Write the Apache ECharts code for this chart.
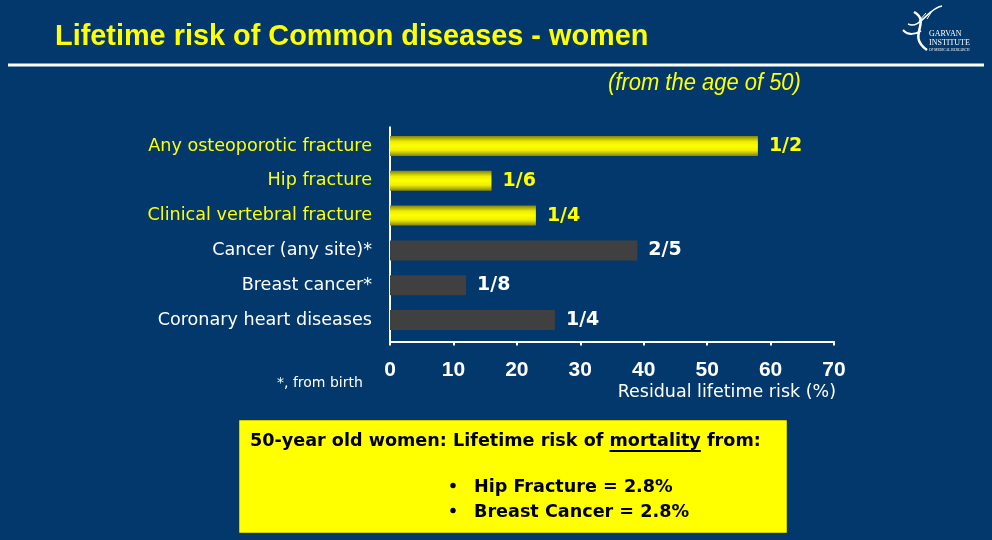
<!DOCTYPE html>
<html>
<head>
<meta charset="utf-8">
<script src="https://cdn.jsdelivr.net/npm/echarts@6/dist/echarts.min.js"></script>
<style>
html,body{margin:0;padding:0;background:#02386b;}
#c{width:992px;height:540px;}
</style>
</head>
<body>
<div id="c"></div>
<script>
// ---- data ----
const categories = ["Any osteoporotic fracture", "Hip fracture", "Clinical vertebral fracture", "Cancer (any site)*", "Breast cancer*", "Coronary heart diseases"];
const riskValues = [58, 16, 23, 39, 12, 26];
const fractionLabels = ["1/2", "1/6", "1/4", "2/5", "1/8", "1/4"];
const isFracture = [true, true, true, false, false, false];
const xTicks = [0, 10, 20, 30, 40, 50, 60, 70];
const titleText = "Lifetime risk of Common diseases - women";
const subtitleText = "(from the age of 50)";
const axisTitle = "Residual lifetime risk (%)";
const footnote = "*, from birth";
const boxHeading = ["50-year old women: Lifetime risk of ", "mortality", " from:"];
const boxBullets = ["Hip Fracture = 2.8%", "Breast Cancer = 2.8%"];

// ---- styles ----
const BG = "#02386b";
const YEL = "#ffff00";
const GRAY = "#404040";
const WHITE = "#ffffff";
const ARIAL = "'Liberation Sans', Arial, sans-serif";
const TAHOMA = "'DejaVu Sans', Verdana, sans-serif";

const gridLeft = 390, gridRight = 834, gridTop = 128.6, gridBottom = 337.4, axisY = 341.5;

// measure text for the underline under "mortality"
const mctx = document.createElement("canvas").getContext("2d");
const boxFont = "bold 17.6px " + TAHOMA;
mctx.font = boxFont;
const boxTextX = 250;
const ulX = boxTextX + mctx.measureText(boxHeading[0]).width;
const ulW = mctx.measureText(boxHeading[1]).width;

const yellowGrad = new echarts.graphic.LinearGradient(0, 0, 0, 1, [
  {offset: 0, color: "#85850a"},
  {offset: 0.28, color: "#eeee00"},
  {offset: 0.5, color: "#ffff00"},
  {offset: 0.72, color: "#eeee00"},
  {offset: 1, color: "#85850a"}
]);

const barData = riskValues.map((v, i) => ({
  value: v,
  itemStyle: {color: isFracture[i] ? yellowGrad : GRAY},
  label: {color: isFracture[i] ? YEL : WHITE}
}));

const chart = echarts.init(document.getElementById("c"), null, {renderer: "canvas"});

const option = {
  backgroundColor: BG,
  animation: false,
  grid: {left: gridLeft, right: 992 - gridRight, top: gridTop, bottom: 540 - gridBottom, containLabel: false},
  xAxis: {
    type: "value",
    min: xTicks[0], max: xTicks[xTicks.length - 1], interval: 10,
    offset: axisY - gridBottom,
    axisLine: {show: true, lineStyle: {color: WHITE, width: 2}},
    axisTick: {show: true, length: 4, lineStyle: {color: WHITE, width: 2}},
    splitLine: {show: false},
    axisLabel: {color: WHITE, fontFamily: ARIAL, fontWeight: "bold", fontSize: 21, margin: 18}
  },
  yAxis: {
    type: "category",
    inverse: true,
    data: categories,
    axisLine: {show: false},
    axisTick: {show: false},
    axisLabel: {
      fontFamily: TAHOMA, fontSize: 17.6, margin: 18,
      color: (val, idx) => isFracture[idx] ? YEL : WHITE
    }
  },
  series: [{
    type: "bar",
    data: barData,
    barWidth: 20,
    label: {
      show: true, position: "right", distance: 11,
      fontFamily: TAHOMA, fontWeight: "bold", fontSize: 19,
      formatter: p => fractionLabels[p.dataIndex]
    }
  }],
  graphic: [
    {type: "text", x: 55, y: 37, scaleX: 0.962, style: {text: titleText, fill: YEL, font: "bold 30px " + ARIAL, verticalAlign: "middle"}},
    {type: "rect", shape: {x: 8, y: 63.5, width: 976, height: 3}, style: {fill: WHITE}},
    {type: "text", x: 608, y: 84, scaleX: 0.955, style: {text: subtitleText, fill: YEL, font: "italic 23px " + ARIAL, verticalAlign: "middle"}},
    // y axis line
    {type: "line", shape: {x1: gridLeft, y1: gridTop - 2, x2: gridLeft, y2: axisY}, style: {stroke: WHITE, lineWidth: 2}},
    // logo
    {type: "text", left: 929, top: 30, style: {text: "GARVAN", fill: WHITE, font: "8px 'Liberation Serif', serif"}},
    {type: "text", left: 929, top: 39, style: {text: "INSTITUTE", fill: WHITE, font: "8px 'Liberation Serif', serif"}},
    {type: "text", left: 929, top: 48, style: {text: "OF MEDICAL RESEARCH", fill: WHITE, font: "3.5px 'Liberation Serif', serif"}},
    {type: "bezierCurve", shape: {x1: 908, y1: 24, x2: 942, y2: 6, cpx1: 920, cpy1: 30, cpx2: 928, cpy2: 8}, style: {stroke: WHITE, lineWidth: 1.5, fill: null}},
    {type: "bezierCurve", shape: {x1: 914, y1: 12, x2: 927, y2: 50, cpx1: 932, cpy1: 22, cpx2: 906, cpy2: 36}, style: {stroke: WHITE, lineWidth: 2.5, fill: null}},
    {type: "bezierCurve", shape: {x1: 903, y1: 30, x2: 921, y2: 31, cpx1: 908, cpy1: 36, cpx2: 916, cpy2: 34}, style: {stroke: WHITE, lineWidth: 2, fill: null}},
    {type: "line", shape: {x1: 919, y1: 21, x2: 926, y2: 13}, style: {stroke: WHITE, lineWidth: 1}},
    {type: "line", shape: {x1: 927, y1: 19, x2: 932, y2: 11}, style: {stroke: WHITE, lineWidth: 1}},
    // axis title & footnote
    {type: "text", right: 992 - 836, top: 383, style: {text: axisTitle, fill: WHITE, font: "17.5px " + TAHOMA}},
    {type: "text", left: 277, top: 376, style: {text: footnote, fill: WHITE, font: "14px " + TAHOMA}},
    // yellow box
    {type: "rect", shape: {x: 239, y: 420, width: 548, height: 113}, style: {fill: YEL, stroke: "#333300", lineWidth: 0.5}},
    {type: "text", x: boxTextX, y: 441, style: {text: boxHeading.join(""), fill: "#000", font: boxFont, verticalAlign: "middle"}},
    {type: "rect", shape: {x: ulX, y: 450, width: ulW, height: 2}, style: {fill: "#000"}},
    {type: "circle", shape: {cx: 453, cy: 485.5, r: 2.7}, style: {fill: "#000"}},
    {type: "circle", shape: {cx: 453, cy: 510.5, r: 2.7}, style: {fill: "#000"}},
    {type: "text", x: 474, y: 487, style: {text: boxBullets[0], fill: "#000", font: boxFont, verticalAlign: "middle"}},
    {type: "text", x: 474, y: 512, style: {text: boxBullets[1], fill: "#000", font: boxFont, verticalAlign: "middle"}}
  ]
};
chart.setOption(option);
</script>
</body>
</html>
